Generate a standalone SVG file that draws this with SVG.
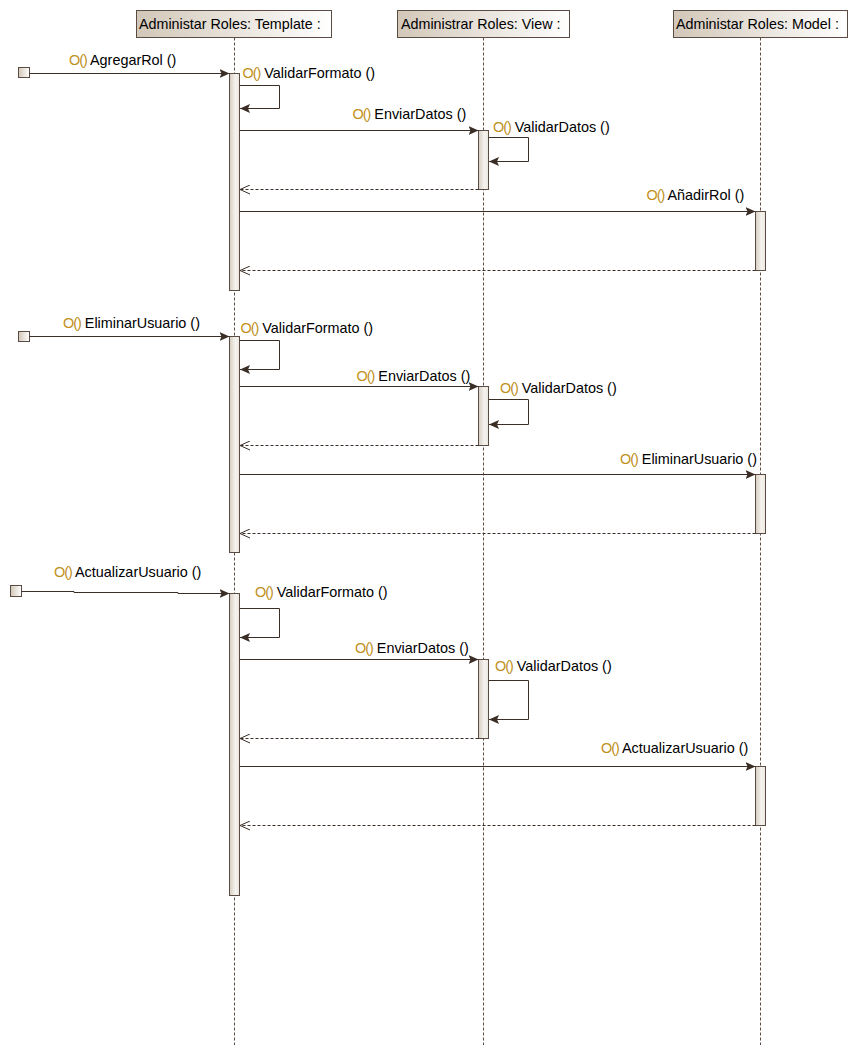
<svg xmlns="http://www.w3.org/2000/svg" width="858" height="1056" viewBox="0 0 858 1056">
<style>
text{font-family:"Liberation Sans",Arial,sans-serif;fill:#000;}
.hdr{font-size:14.3px;}
.lbl{font-size:14.4px;}
.op{fill:#C0901C;letter-spacing:-1px;}
.head{stroke:#5a4c42;stroke-width:1;fill:url(#gh);}
.bar{stroke:#5a4c42;stroke-width:1;fill:url(#gb);}
.life{stroke:#5a4c42;stroke-width:1;stroke-dasharray:3,2;fill:none;}
.call{stroke:#3a2e26;stroke-width:1;fill:none;marker-end:url(#mc);}
.ret{stroke:#3a2e26;stroke-width:1;fill:none;stroke-dasharray:3,2;marker-end:url(#mr);}
.start{stroke:#5a4c42;stroke-width:1;fill:url(#gh);}
</style>
<defs>
<linearGradient id="gh" x1="0" y1="0" x2="1" y2="0">
<stop offset="0" stop-color="#d2c7b8"/>
<stop offset="1" stop-color="#ffffff"/>
</linearGradient>
<linearGradient id="gb" x1="0" y1="0" x2="1" y2="0">
<stop offset="0" stop-color="#d6cdc2"/>
<stop offset="0.6" stop-color="#f6f3ef"/>
<stop offset="1" stop-color="#ebe6df"/>
</linearGradient>
<marker id="mc" viewBox="0 0 10 9" refX="10" refY="4.5" markerWidth="10" markerHeight="9" markerUnits="userSpaceOnUse" orient="auto">
<path d="M0,0 L10,4.5 L0,9 L2,4.5 z" fill="#3a2e26"/>
</marker>
<marker id="mr" viewBox="0 0 11 10" refX="10.5" refY="5" markerWidth="11" markerHeight="10" markerUnits="userSpaceOnUse" orient="auto">
<path d="M0.5,0.5 L10.5,5 L0.5,9.5" fill="none" stroke="#3a2e26" stroke-width="1"/>
</marker>
</defs>
<rect x="0" y="0" width="858" height="1056" fill="#ffffff"/>

<g id="template">
<line class="life" x1="234.5" y1="37.5" x2="234.5" y2="1045"/>
<rect class="head" x="136.5" y="10.5" width="195" height="27"/>
<text class="hdr" x="139" y="29">Administar Roles: Template :</text>
<rect class="bar" x="229.5" y="73.5" width="10" height="217"/>
<rect class="bar" x="229.5" y="336.5" width="10" height="216"/>
<rect class="bar" x="229.5" y="593.5" width="10" height="302"/>
</g>

<g id="view">
<line class="life" x1="483.5" y1="37.5" x2="483.5" y2="1045"/>
<rect class="head" x="397.5" y="10.5" width="172" height="27"/>
<text class="hdr" x="401" y="29">Administrar Roles: View :</text>
<rect class="bar" x="478.5" y="130.5" width="10" height="59"/>
<rect class="bar" x="478.5" y="386.5" width="10" height="59"/>
<rect class="bar" x="478.5" y="659.5" width="10" height="79"/>
</g>

<g id="model">
<line class="life" x1="760.5" y1="37.5" x2="760.5" y2="1045"/>
<rect class="head" x="673.5" y="10.5" width="174" height="27"/>
<text class="hdr" x="676" y="29">Administar Roles: Model :</text>
<rect class="bar" x="755.5" y="211.5" width="10" height="59"/>
<rect class="bar" x="755.5" y="474.5" width="10" height="59"/>
<rect class="bar" x="755.5" y="766.5" width="10" height="59"/>
</g>

<g id="start1"><rect class="start" x="18.5" y="67.5" width="11" height="10"/></g>
<g id="start2"><rect class="start" x="18.5" y="331.5" width="11" height="10"/></g>
<g id="start3"><rect class="start" x="10.5" y="585.5" width="11" height="11"/></g>

<g id="connectors">
<!-- block 1 -->
<path class="call" d="M29.5,73.5 H229.5"/>
<path class="call" d="M239.5,85.5 H279.5 V108.5 H240"/>
<path class="call" d="M239.5,130.5 H478.5"/>
<path class="call" d="M488.5,137.5 H528.5 V161.5 H489"/>
<path class="ret" d="M478.5,189.5 H240"/>
<path class="call" d="M239.5,211.5 H755.5"/>
<path class="ret" d="M755.5,270.5 H240"/>
<!-- block 2 -->
<path class="call" d="M29.5,336.5 H229.5"/>
<path class="call" d="M239.5,340.5 H279.5 V369.5 H240"/>
<path class="call" d="M239.5,386.5 H478.5"/>
<path class="call" d="M488.5,399.5 H528.5 V424.5 H489"/>
<path class="ret" d="M478.5,445.5 H240"/>
<path class="call" d="M239.5,474.5 H755.5"/>
<path class="ret" d="M755.5,533.5 H240"/>
<!-- block 3 -->
<path class="call" d="M21.5,591.5 H74 V592.5 H178 V593.5 H229.5"/>
<path class="call" d="M239.5,608.5 H279.5 V637.5 H240"/>
<path class="call" d="M239.5,659.5 H478.5"/>
<path class="call" d="M488.5,680.5 H528.5 V719.5 H489"/>
<path class="ret" d="M478.5,738.5 H240"/>
<path class="call" d="M239.5,766.5 H755.5"/>
<path class="ret" d="M755.5,825.5 H240"/>

<!-- labels -->
<text class="lbl" x="69" y="65"><tspan class="op">O()</tspan> AgregarRol ()</text>
<text class="lbl" x="242.5" y="78"><tspan class="op">O()</tspan> ValidarFormato ()</text>
<text class="lbl" x="352.5" y="119"><tspan class="op">O()</tspan> EnviarDatos ()</text>
<text class="lbl" x="493" y="132"><tspan class="op">O()</tspan> ValidarDatos ()</text>
<text class="lbl" x="646.5" y="200"><tspan class="op">O()</tspan> AñadirRol ()</text>

<text class="lbl" x="63" y="328"><tspan class="op">O()</tspan> EliminarUsuario ()</text>
<text class="lbl" x="240.5" y="333"><tspan class="op">O()</tspan> ValidarFormato ()</text>
<text class="lbl" x="356.5" y="381"><tspan class="op">O()</tspan> EnviarDatos ()</text>
<text class="lbl" x="500" y="393"><tspan class="op">O()</tspan> ValidarDatos ()</text>
<text class="lbl" x="620" y="464"><tspan class="op">O()</tspan> EliminarUsuario ()</text>

<text class="lbl" x="54" y="577"><tspan class="op">O()</tspan> ActualizarUsuario ()</text>
<text class="lbl" x="255" y="597"><tspan class="op">O()</tspan> ValidarFormato ()</text>
<text class="lbl" x="355" y="653"><tspan class="op">O()</tspan> EnviarDatos ()</text>
<text class="lbl" x="495" y="671"><tspan class="op">O()</tspan> ValidarDatos ()</text>
<text class="lbl" x="601" y="753"><tspan class="op">O()</tspan> ActualizarUsuario ()</text>
</g>
</svg>
